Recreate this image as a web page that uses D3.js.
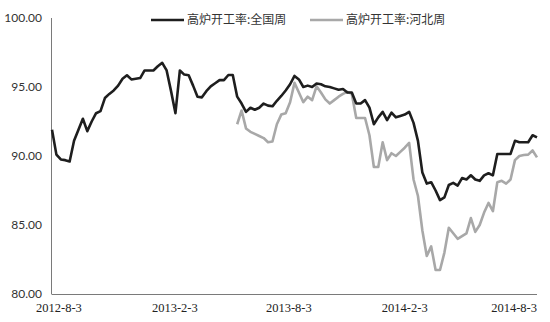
<!DOCTYPE html>
<html>
<head>
<meta charset="utf-8">
<script src="https://cdn.jsdelivr.net/npm/d3@7"></script>
<style>
  body { margin: 0; background: #fff; }
  svg { display: block; }
</style>
</head>
<body>
<div id="chart"></div>
<script>
// weekly series, first week 2012-7-23
var startDate = "2012-07-23";

var nationRate = [
  91.9, 90.1, 89.75, 89.7, 89.6, 91.1, 91.9, 92.7, 91.8, 92.5,
  93.1, 93.25, 94.2, 94.5, 94.75, 95.1, 95.6, 95.85, 95.55, 95.6,
  95.65, 96.2, 96.2, 96.2, 96.5, 96.75, 96.2, 94.7, 93.1, 96.2,
  95.9, 95.85, 95.1, 94.3, 94.25, 94.7, 95.05, 95.27, 95.5, 95.5,
  95.87, 95.87, 94.3, 93.8, 93.2, 93.5, 93.35, 93.5, 93.8, 93.65,
  93.6, 94.0, 94.35, 94.75, 95.2, 95.8, 95.55, 95.0, 95.1, 95.0,
  95.25, 95.2, 95.05, 95.0, 94.9, 94.8, 94.85, 94.6, 94.6, 93.8,
  93.8, 94.05, 93.5, 92.3, 92.8, 93.2, 92.6, 93.15, 92.8, 92.9,
  93.0, 93.2, 92.4, 91.1, 88.8, 88.0, 88.1, 87.5, 86.8, 87.0,
  87.9, 88.05, 87.85, 88.4, 88.3, 88.6, 88.3, 88.2, 88.6, 88.75,
  88.6, 90.15, 90.15, 90.15, 90.15, 91.1, 91.0, 91.0, 91.0, 91.5,
  91.35
];

// Hebei series starts at week 42
var hebeiStart = 42;
var hebeiRate = [
  92.3, 93.3, 92.0, 91.75, 91.6, 91.45, 91.3, 91.0, 91.05, 92.3,
  93.0, 93.1, 93.9, 95.3, 94.6, 93.9, 94.3, 94.05, 95.05, 94.6,
  94.1, 93.8, 94.05, 94.3, 94.5, 94.65, 94.5, 92.75, 92.75, 92.75,
  91.5, 89.2, 89.2, 91.0, 89.7, 90.2, 90.0, 90.3, 90.6, 90.95,
  88.3, 87.1, 84.6, 82.75, 83.45, 81.74, 81.74, 83.0, 84.8, 84.4,
  84.0, 84.2, 84.4, 85.5, 84.5, 85.0, 85.9, 86.6, 86.0, 88.1,
  88.2, 88.0, 88.3, 89.7, 90.0, 90.07, 90.1, 90.4, 89.9
];

var seriesNames = ["高炉开工率:全国周", "高炉开工率:河北周"];
var seriesColors = ["#1e1e1e", "#a8a8a8"];

var yTicks = [80, 85, 90, 95, 100];
var xTickLabels = ["2012-8-3", "2013-2-3", "2013-8-3", "2014-2-3", "2014-8-3"];

var W = 550, H = 322;
var plotLeft = 52, plotRight = 537, plotTop = 18, plotBottom = 294;

var parse = d3.timeParse("%Y-%m-%d");
var t0 = parse(startDate);
var dates = nationRate.map(function(d, i){ return d3.timeWeek.offset(t0, i); });

var nation = nationRate.map(function(v, i){ return { date: dates[i], value: v }; });
var hebei = hebeiRate.map(function(v, i){ return { date: dates[hebeiStart + i], value: v }; });

var svg = d3.select("#chart").append("svg")
    .attr("width", W)
    .attr("height", H);

var x = d3.scaleTime()
    .domain([dates[0], dates[dates.length - 1]])
    .range([plotLeft, plotRight]);

var y = d3.scaleLinear()
    .domain([80, 100])
    .range([plotBottom, plotTop]);

// axes lines
svg.append("line")
    .attr("x1", plotLeft - 0.5).attr("x2", plotLeft - 0.5)
    .attr("y1", plotTop).attr("y2", plotBottom)
    .attr("stroke", "#7a7a7a").attr("stroke-width", 1);
svg.append("line")
    .attr("x1", plotLeft - 0.5).attr("x2", plotRight)
    .attr("y1", plotBottom + 0.5).attr("y2", plotBottom + 0.5)
    .attr("stroke", "#7a7a7a").attr("stroke-width", 1);

// y tick labels
svg.selectAll(".ylab").data(yTicks).enter()
    .append("text")
    .attr("class", "ylab")
    .attr("x", 42)
    .attr("y", function(d){ return y(d); })
    .attr("dy", "0.35em")
    .attr("text-anchor", "end")
    .attr("font-family", "Lato, 'DejaVu Sans', sans-serif")
    .attr("font-size", "12px")
    .attr("fill", "#333")
    .text(function(d){ return d.toFixed(2); });

// x tick labels, kept inside the axis end
svg.selectAll(".xlab").data(xTickLabels).enter()
    .append("text")
    .attr("class", "xlab")
    .attr("y", 312)
    .attr("text-anchor", "middle")
    .attr("font-family", "'Liberation Serif', serif")
    .attr("font-size", "12.5px")
    .attr("fill", "#222")
    .text(function(d){ return d; })
    .attr("x", function(d){
        var px = x(parse(d.replace(/-(\d)(?=-|$)/g, "-0$1")));
        var half = this.getComputedTextLength() / 2;
        return Math.min(px, plotRight - half);
    });

var line = d3.line()
    .x(function(d){ return x(d.date); })
    .y(function(d){ return y(d.value); });

svg.append("path")
    .datum(hebei)
    .attr("fill", "none")
    .attr("stroke", seriesColors[1])
    .attr("stroke-width", 2.6)
    .attr("stroke-linejoin", "round")
    .attr("d", line);

svg.append("path")
    .datum(nation)
    .attr("fill", "none")
    .attr("stroke", seriesColors[0])
    .attr("stroke-width", 2.6)
    .attr("stroke-linejoin", "round")
    .attr("d", line);

// legend
var legendX = [151, 310];
var legend = svg.selectAll(".legend").data(seriesNames).enter()
    .append("g")
    .attr("class", "legend")
    .attr("transform", function(d, i){ return "translate(" + legendX[i] + ",20)"; });
legend.append("line")
    .attr("x1", 0).attr("x2", 33)
    .attr("stroke", function(d, i){ return seriesColors[i]; })
    .attr("stroke-width", 2.6);
legend.append("text")
    .attr("x", 36)
    .attr("dy", "0.36em")
    .attr("font-family", "'Noto Sans CJK SC', sans-serif")
    .attr("font-size", "12px")
    .attr("fill", "#333")
    .text(function(d){ return d; });
</script>
</body>
</html>
